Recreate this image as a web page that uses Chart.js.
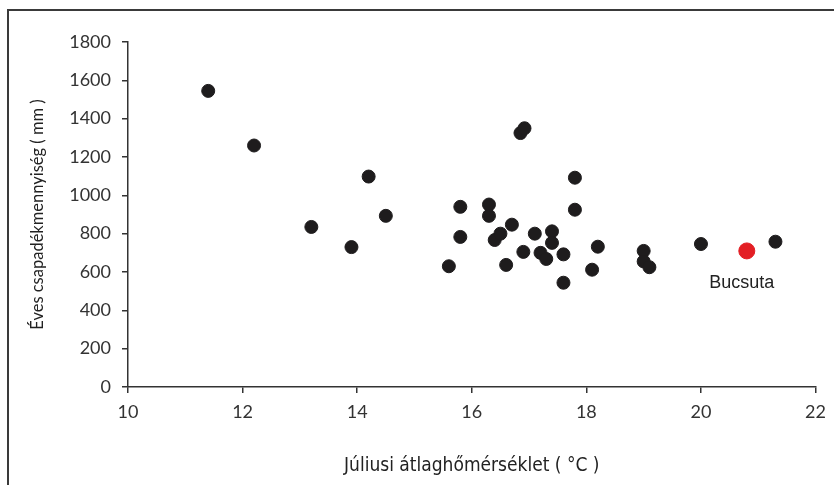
<!DOCTYPE html>
<html>
<head>
<meta charset="utf-8">
<script src="https://cdn.jsdelivr.net/npm/chart.js@4.4.0/dist/chart.umd.min.js"></script>
<style>
    html, body { margin: 0; padding: 0; background: #fff; }
    #wrap { position: relative; width: 834px; height: 485px; }
    #frame {
        position: absolute; left: 7px; top: 9px; width: 900px; height: 600px;
        border-left: 2px solid #3a3a3a; border-top: 2px solid #3a3a3a;
        pointer-events: none;
    }
</style>
</head>
<body>
<div id="wrap">
    <canvas id="scatter-chart" width="834" height="485"></canvas>
    <div id="frame"></div>
</div>
<script>
// Júliusi átlaghőmérséklet (°C) vs. éves csapadék (mm)
const tempValues = [
    11.4, 12.2, 13.2, 13.9, 14.2, 14.5, 15.6, 15.8, 15.8, 16.3,
    16.3, 16.4, 16.5, 16.6, 16.7, 16.85, 16.92, 16.9, 17.1, 17.2,
    17.3, 17.4, 17.4, 17.6, 17.6, 17.8, 17.8, 18.1, 18.2, 19.0,
    19.0, 19.1, 20.0, 21.3
];
const rainValues = [
    1545, 1260, 835, 730, 1098, 893, 630, 940, 783, 952,
    893, 767, 800, 637, 847, 1325, 1350, 705, 800, 700,
    668, 812, 752, 692, 544, 1092, 925, 612, 732, 710,
    655, 625, 746, 758
];
const highlightName = "Bucsuta";
const highlightPoint = [20.8, 710];

const xTicks = [10, 12, 14, 16, 18, 20, 22];
const yTicks = [0, 200, 400, 600, 800, 1000, 1200, 1400, 1600, 1800];

const points = tempValues.map((x, i) => ({ x, y: rainValues[i] }));

const labelPlugin = {
    id: "pointLabel",
    afterDatasetsDraw(chart) {
        const meta = chart.getDatasetMeta(1);
        const el = meta.data[0];
        if (!el) return;
        const ctx = chart.ctx;
        ctx.save();
        ctx.font = "18px 'Liberation Sans', Arial, sans-serif";
        ctx.fillStyle = "#222";
        ctx.textAlign = "center";
        ctx.textBaseline = "middle";
        ctx.fillText(highlightName, el.x - 5, el.y + 32);
        ctx.restore();
    }
};

const axisColor = "#333";
const tickFont = { family: "Lato, 'Open Sans', sans-serif", size: 18 };

new Chart(document.getElementById("scatter-chart"), {
    type: "scatter",
    data: {
        datasets: [{
            data: points,
            backgroundColor: "#1e1c1d",
            borderColor: "#1e1c1d",
            pointRadius: 6.5,
            pointHoverRadius: 6.5
        }, {
            data: [{ x: highlightPoint[0], y: highlightPoint[1] }],
            backgroundColor: "#e31e24",
            borderColor: "#e31e24",
            pointRadius: 8,
            pointHoverRadius: 8
        }]
    },
    options: {
        responsive: false,
        animation: false,
        layout: { padding: { top: 42, right: 17, left: 0, bottom: 0 } },
        plugins: {
            legend: { display: false },
            tooltip: { enabled: false }
        },
        scales: {
            x: {
                type: "linear",
                min: 10,
                max: 22,
                afterBuildTicks: scale => { scale.ticks = xTicks.map(v => ({ value: v })); },
                afterFit: scale => { scale.height = 98; },
                border: { display: true, color: axisColor, width: 1.5 },
                grid: { drawOnChartArea: false, drawTicks: true, tickLength: 6, color: axisColor, lineWidth: 1.5 },
                ticks: { color: "#333", font: tickFont, padding: 8, maxRotation: 0, callback: v => String(v) },
                title: {
                    display: true,
                    text: "Júliusi átlaghőmérséklet ( °C )",
                    color: "#222",
                    font: { family: "'DejaVu Sans Condensed', 'Liberation Sans Narrow', sans-serif", size: 19 },
                    padding: { top: 0, bottom: 8 }
                }
            },
            y: {
                type: "linear",
                min: 0,
                max: 1800,
                afterBuildTicks: scale => { scale.ticks = yTicks.map(v => ({ value: v })); },
                afterFit: scale => { scale.width = 128; },
                border: { display: true, color: axisColor, width: 1.5 },
                grid: { drawOnChartArea: false, drawTicks: true, tickLength: 6, color: axisColor, lineWidth: 1.5 },
                ticks: { color: "#333", font: tickFont, padding: 11, callback: v => String(v) },
                title: {
                    display: true,
                    text: "Éves csapadékmennyiség ( mm )",
                    color: "#222",
                    font: { family: "Lato, 'Open Sans', sans-serif", size: 16.5 },
                    padding: { top: 28, bottom: 0 }
                }
            }
        }
    },
    plugins: [labelPlugin]
});
</script>
</body>
</html>
